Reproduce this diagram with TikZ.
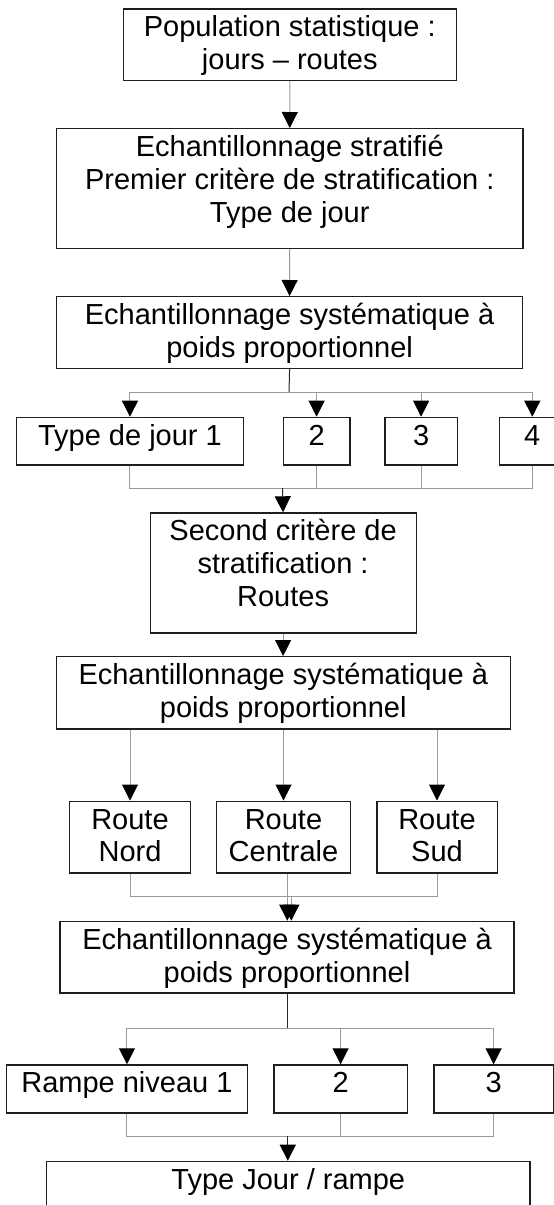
\documentclass[tikz,border=0pt]{standalone}
\usepackage{fontspec}
\setmainfont{Liberation Sans}
\usetikzlibrary{arrows.meta}
\definecolor{conngray}{RGB}{155,155,155}
\definecolor{darkline}{RGB}{40,40,40}
\definecolor{boxline}{RGB}{30,30,30}
\newcommand{\boxlines}[1]{\begin{tabular}[t]{@{}c@{}}#1\end{tabular}}
\begin{document}
\begin{tikzpicture}[x=1pt,y=-1pt,
  box/.style={draw=boxline, line width=1.2pt, inner xsep=0pt, inner ysep=0pt,
    anchor=north west, font=\fontsize{29}{32.8}\selectfont, text height=28pt},
  conn/.style={draw=conngray, line width=1pt},
  dark/.style={draw=darkline, line width=1pt},
  withhead/.style={-{Triangle[width=16pt,length=16pt,color=black]}}]
\useasboundingbox (0,0) rectangle (554,1205);
\clip (0,0) rectangle (554,1205);

% boxes
\node[box, minimum width=333.2pt, text depth=43.7pt] (b1) at (122.6,8.3) {\boxlines{Population statistique :\\jours – routes}};
\node[box, minimum width=466.3pt, text depth=92pt] (b2) at (56,128) {\boxlines{Echantillonnage stratifié\\Premier critère de stratification :\\Type de jour}};
\node[box, minimum width=466pt, text depth=44pt] (b3) at (56,296) {\boxlines{Echantillonnage systématique à\\poids proportionnel}};

\node[box, minimum width=226.7pt, text depth=19.6pt] (t1) at (16,416.7) {\boxlines{Type de jour 1}};
\node[box, minimum width=66.6pt, text depth=19.6pt] (t2) at (282.7,416.7) {\boxlines{2}};
\node[box, minimum width=72.4pt, text depth=19.6pt] (t3) at (384.3,416.7) {\boxlines{3}};
\node[box, minimum width=66pt, text depth=19.6pt] (t4) at (498.7,416.7) {\boxlines{4}};

\node[box, minimum width=266pt, text depth=92pt] (b5) at (149.5,512.3) {\boxlines{Second critère de\\stratification :\\Routes}};
\node[box, minimum width=453.7pt, text depth=44.3pt] (b6) at (55.8,656) {\boxlines{Echantillonnage systématique à\\poids proportionnel}};

\node[box, minimum width=121pt, text depth=43.8pt] (r1) at (68.9,800.5) {\boxlines{Route\\Nord}};
\node[box, minimum width=133.4pt, text depth=43.8pt] (r2) at (216.2,800.5) {\boxlines{Route\\Centrale}};
\node[box, minimum width=120.2pt, text depth=43.8pt] (r3) at (376.3,800.5) {\boxlines{Route\\Sud}};

\node[box, minimum width=454pt, text depth=43.6pt] (b7) at (59.4,920.7) {\boxlines{Echantillonnage systématique à\\poids proportionnel}};

\node[box, minimum width=240.7pt, text depth=20pt] (p1) at (6,1064.3) {\boxlines{Rampe niveau 1}};
\node[box, minimum width=133.4pt, text depth=20pt] (p2) at (273.3,1064.3) {\boxlines{2}};
\node[box, minimum width=119.4pt, text depth=20pt] (p3) at (433.3,1064.3) {\boxlines{3}};

\node[box, minimum width=483.3pt, text depth=72pt] (b8) at (46,1160.7) {\boxlines{Type Jour / rampe}};

% junction coordinates
\coordinate (j1) at (289,392);
\coordinate (m1) at (282.5,488);
\coordinate (m2) at (287.3,896);
\coordinate (m2b) at (291.3,896);
\coordinate (j3) at (287.3,1028.5);
\coordinate (m3) at (287.8,1136);

% connectors
\draw[conn,withhead] (b1.south) -- (b2.north);
\draw[conn,withhead] (b2.south) -- (b3.north);

\draw[dark] (b3.south) -- (j1);
\draw[conn,withhead] (j1) -| (t1.north);
\draw[conn,withhead] (j1) -| (t2.north);
\draw[conn,withhead] (j1) -| (t3.north);
\draw[conn,withhead] (j1) -| (t4.north);

\draw[conn] (t1.south) |- (m1);
\draw[conn] (t2.south) |- (m1);
\draw[conn] (t3.south) |- (m1);
\draw[conn] (t4.south) |- (m1);
\draw[dark,withhead] (m1) -- (b5.north);

\draw[conn,withhead] (b5.south) -- (b5.south |- b6.north);

\draw[conn,withhead] (r1.north |- b6.south) -- (r1.north);
\draw[conn,withhead] (r2.north |- b6.south) -- (r2.north);
\draw[conn,withhead] (r3.north |- b6.south) -- (r3.north);

\draw[conn] (r1.south) |- (m2);
\draw[conn] (r3.south) |- (m2);
\draw[conn] (m2 |- r2.south) -- (m2);
\draw[conn,withhead] (m2) -- (m2 |- b7.north);
\draw[conn,withhead] (m2b) -- (m2b |- b7.north);

\draw[dark] (j3 |- b7.south) -- (j3);
\draw[conn,withhead] (j3) -| (p1.north);
\draw[conn,withhead] (j3) -| (p2.north);
\draw[conn,withhead] (j3) -| (p3.north);

\draw[conn] (p1.south) |- (m3);
\draw[conn] (p2.south) |- (m3);
\draw[conn] (p3.south) |- (m3);
\draw[dark,withhead] (m3) -- (m3 |- b8.north);
\end{tikzpicture}
\end{document}
